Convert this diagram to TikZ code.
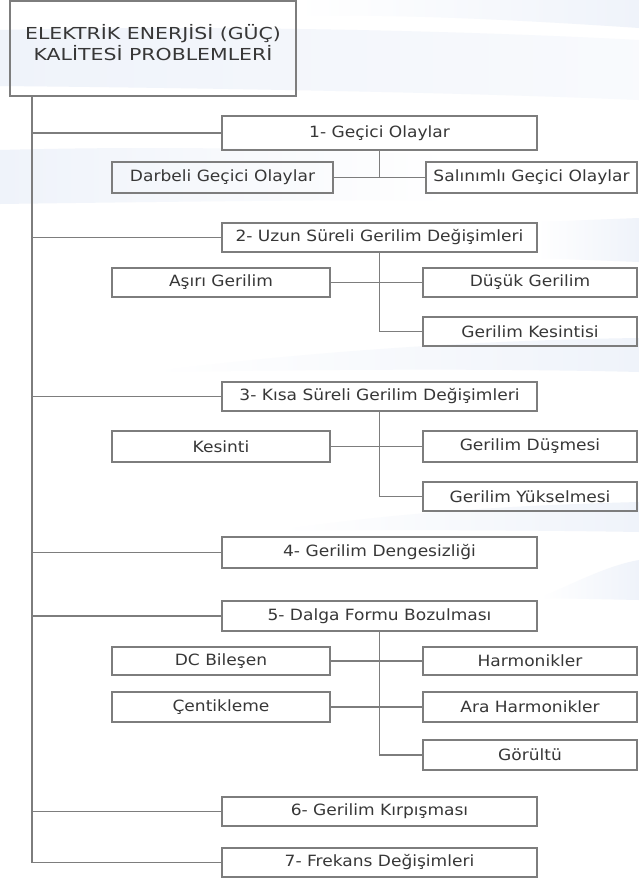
\documentclass[tikz,border=0pt]{standalone}
\usepackage{fontspec}
\newfontfamily\boxfont{DejaVu Sans}[FakeStretch=1.1]
\newfontfamily\titlefont{DejaVu Sans}[FakeStretch=1.24]
\definecolor{edge}{RGB}{125,125,125}
\definecolor{ink}{RGB}{55,55,55}
\definecolor{swoosh}{RGB}{239,243,250}
\tikzset{
  lbox/.style={draw=edge, line width=1.2pt, minimum height=30pt, inner sep=0pt,
    font=\boxfont\fontsize{15.5}{18}\selectfont, text=ink},
  mainbox/.style={lbox, minimum width=315pt},
  leftbox/.style={lbox, minimum width=218pt},
  rightbox/.style={lbox, minimum width=214pt},
  conn/.style={draw=edge, line width=1.2pt},
}
\begin{document}
\begin{tikzpicture}[x=1pt,y=-1pt]
\useasboundingbox (0,0) rectangle (639,878);
\fill[white] (0,0) rectangle (639,878);
% faint background swooshes
\shade[left color=white, right color=swoosh] (296,0) -- (639,0) -- (639,28) .. controls (520,20) and (400,14) .. (296,16) -- cycle;
\shade[left color=swoosh, right color=swoosh!40] (0,30) .. controls (200,25) and (450,30) .. (639,40) -- (639,100) .. controls (450,92) and (200,88) .. (0,86) -- cycle;
\shade[left color=swoosh, right color=white] (0,150) .. controls (150,146) and (300,148) .. (450,156) -- (450,200) .. controls (300,200) and (150,202) .. (0,204) -- cycle;
\shade[left color=white, right color=swoosh] (150,372) .. controls (300,352) and (480,340) .. (639,338) -- (639,372) .. controls (480,368) and (300,370) .. (150,372) -- cycle;
\shade[left color=white, right color=swoosh] (280,530) .. controls (400,512) and (520,505) .. (639,502) -- (639,532) .. controls (520,530) and (400,530) .. (280,530) -- cycle;
\shade[left color=white, right color=swoosh] (540,598) .. controls (580,580) and (610,565) .. (639,560) -- (639,600) -- cycle;
\shade[left color=white, right color=swoosh] (537,222) -- (639,218) -- (639,262) -- (537,258) -- cycle;

% title
\node[lbox, minimum width=286pt, minimum height=95pt,
  font=\titlefont\fontsize{16.5}{21}\selectfont] (title) at (153,48.5)
  {\raisebox{3pt}[\height][\depth]{\begin{tabular}{@{}c@{}}ELEKTRİK ENERJİSİ (GÜÇ)\\KALİTESİ PROBLEMLERİ\end{tabular}}};
\coordinate (trunk) at (32,0);

% level 1
\node[mainbox, minimum height=34pt] (b1) at (379.5,133) {1- Geçici Olaylar};
\node[mainbox, minimum height=29pt] (b2) at (379.5,237.5) {2- Uzun Süreli Gerilim Değişimleri};
\node[mainbox, minimum height=29pt] (b3) at (379.5,396.5) {3- Kısa Süreli Gerilim Değişimleri};
\node[mainbox, minimum height=31pt] (b4) at (379.5,552.5) {4- Gerilim Dengesizliği};
\node[mainbox, minimum height=30pt] (b5) at (379.5,616) {5- Dalga Formu Bozulması};
\node[mainbox, minimum height=29pt] (b6) at (379.5,811.5) {6- Gerilim Kırpışması};
\node[mainbox, minimum height=29pt] (b7) at (379.5,862.5) {7- Frekans Değişimleri};

% group 1
\node[lbox, minimum width=221pt, minimum height=31pt] (d1) at (222.5,177.5) {Darbeli Geçici Olaylar};
\node[lbox, minimum width=211pt, minimum height=31pt] (s1) at (531.5,177.5) {Salınımlı Geçici Olaylar};
% group 2
\node[leftbox, minimum height=29pt] (a2) at (221,282.5) {Aşırı Gerilim};
\node[rightbox, minimum height=29pt] (u2) at (530,282.5) {Düşük Gerilim};
\node[rightbox, minimum height=29pt] (k2) at (530,331.5) {Gerilim Kesintisi};
% group 3
\node[leftbox, minimum height=31pt] (a3) at (221,446.5) {Kesinti};
\node[rightbox, minimum height=31pt] (u3) at (530,446.5) {Gerilim Düşmesi};
\node[rightbox, minimum height=29pt] (k3) at (530,496.5) {Gerilim Yükselmesi};
% group 5
\node[leftbox, minimum height=28pt] (dc) at (221,661) {DC Bileşen};
\node[rightbox, minimum height=28pt] (h5) at (530,661) {Harmonikler};
\node[leftbox, minimum height=30pt] (ce) at (221,707) {Çentikleme};
\node[rightbox, minimum height=30pt] (ah) at (530,707) {Ara Harmonikler};
\node[rightbox, minimum height=30pt] (g5) at (530,755) {Görültü};

% trunk
\draw[conn] (title.south -| trunk) -- (b7.west -| trunk);
\foreach \b in {b1,b2,b3,b4,b5,b6,b7}{
  \draw[conn] (\b.west -| trunk) -- (\b.west);
}
% group connectors
\draw[conn] (b1.south) -- (b1.south |- d1.east);
\draw[conn] (d1.east) -- (s1.west);
\draw[conn] (b2.south) -- (b2.south |- k2.west) -- (k2.west);
\draw[conn] (a2.east) -- (u2.west);
\draw[conn] (b3.south) -- (b3.south |- k3.west) -- (k3.west);
\draw[conn] (a3.east) -- (u3.west);
\draw[conn] (b5.south) -- (b5.south |- g5.west) -- (g5.west);
\draw[conn] (dc.east) -- (h5.west);
\draw[conn] (ce.east) -- (ah.west);
\end{tikzpicture}
\end{document}
